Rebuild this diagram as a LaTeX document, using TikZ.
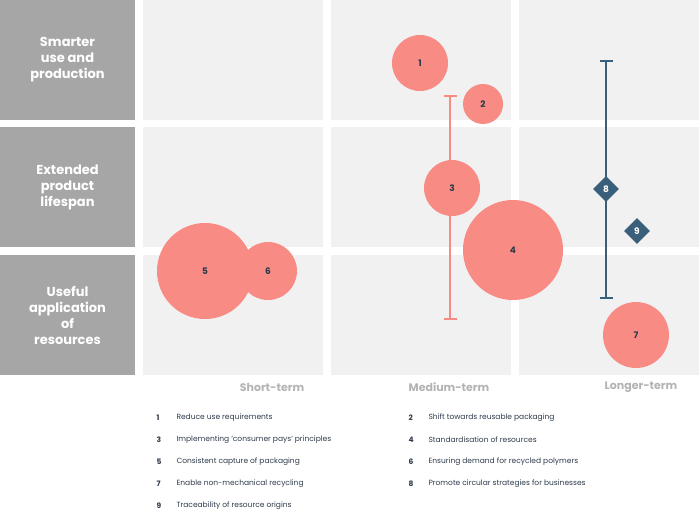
\documentclass[tikz,border=0pt]{standalone}
\usepackage{fontspec}
\setmainfont{Poppins}
\usetikzlibrary{shapes.geometric}
\definecolor{cell}{HTML}{F1F1F1}
\definecolor{lab}{HTML}{A6A6A6}
\definecolor{pink}{HTML}{F98B85}
\definecolor{navy}{HTML}{3A5F7A}
\definecolor{ink}{HTML}{2D3A4A}
\definecolor{axis}{HTML}{B3B3B3}
\tikzset{
 rowtxt/.style={text=white,font=\bfseries\fontsize{13}{16}\selectfont,align=center},
 bub/.style={circle,fill=pink,inner sep=0pt,text=ink,font=\bfseries\fontsize{9}{10}\selectfont},
 dia/.style={diamond,fill=navy,inner sep=0pt,minimum size=26pt,text=white,font=\bfseries\fontsize{9}{10}\selectfont},
 axlab/.style={text=axis,font=\bfseries\fontsize{11}{13}\selectfont},
 legn/.style={anchor=west,text=ink,font=\bfseries\fontsize{7.5}{9}\selectfont},
 legt/.style={anchor=west,text=ink,font=\fontsize{7.5}{9}\selectfont},
}
\begin{document}
\begin{tikzpicture}[x=1pt,y=-1pt]
\useasboundingbox (0,0) rectangle (700,520);
% grid
\foreach \x in {143,331,519}{
 \fill[cell] (\x,0) rectangle ++(180,120);
 \fill[cell] (\x,127) rectangle ++(180,120);
 \fill[cell] (\x,255) rectangle ++(180,120);}
\fill[lab] (0,0) rectangle (135,120);
\fill[lab] (0,127) rectangle (135,247);
\fill[lab] (0,255) rectangle (135,375);
\node[rowtxt] (r1) at (67.5,60) {Smarter\\use and\\production};
\node[rowtxt] (r2) at (67.5,187) {Extended\\product\\lifespan};
\node[rowtxt] (r3) at (67.5,315) {Useful\\application\\of\\resources};
% error bars
\coordinate (a3) at (450,96); \coordinate (b3) at (450,319);
\draw[pink,line width=1.5pt] (a3) -- (b3);
\draw[pink,line width=1.5pt] (444,96) -- (457,96) (444,319) -- (457,319);
\coordinate (a8) at (606,61); \coordinate (b8) at (606,298);
\draw[navy,line width=1.5pt] (a8) -- (b8);
\draw[navy,line width=1.5pt] (600,61) -- (613,61) (600,298) -- (613,298);
% bubbles
\node[bub,minimum size=56pt] (n1) at (420,63) {1};
\node[bub,minimum size=40pt] (n2) at (483,104) {2};
\node[bub,minimum size=56pt] (n3) at (452,188) {3};
\node[bub,minimum size=100pt] (n4) at (513,250) {4};
\node[bub,minimum size=96pt] (n5) at (205,271) {5};
\node[bub,minimum size=58pt] (n6) at (268,271) {6};
\node[bub,minimum size=66pt] (n7) at (636,335) {7};
\node[dia] (n8) at (606,189) {8};
\node[dia] (n9) at (637,231) {9};
% axis labels
\node[axlab] (x1) at (272,387) {Short-term};
\node[axlab] (x2) at (449,387) {Medium-term};
\node[axlab] (x3) at (641,387) {Longer-term};
% legend
\foreach \n/\t/\x/\y in {1/Reduce use requirements/153/418, 2/Shift towards reusable packaging/405/418,
 3/{Implementing ‘consumer pays’ principles}/153/440, 4/Standardisation of resources/405/440,
 5/Consistent capture of packaging/153/462, 6/Ensuring demand for recycled polymers/405/462,
 7/Enable non-mechanical recycling/153/484, 8/Promote circular strategies for businesses/405/484,
 9/Traceability of resource origins/153/506}{
 \node[legn] (ln\n) at (\x,\y) {\n};
 \node[legt] (lt\n) at (\x+20,\y) {\t};}
\end{tikzpicture}
\end{document}
